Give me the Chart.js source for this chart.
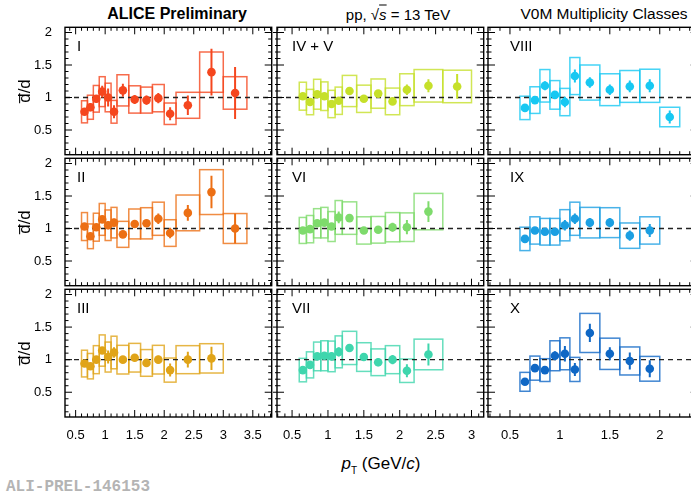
<!DOCTYPE html>
<html>
<head>
<meta charset="utf-8">
<script src="https://cdn.jsdelivr.net/npm/chart.js@4.4.0/dist/chart.umd.min.js"></script>
<style>
    body {margin: 0; background: #fff; overflow: hidden; font-family: "Liberation Sans", Arial, sans-serif;}
    #wrap {position: relative; width: 691px; height: 495px; overflow: hidden;}
    canvas {position: absolute;}
    .txt {position: absolute; white-space: nowrap; color: #000; transform: translate(-50%, -50%);}
</style>
</head>
<body>
<div id="wrap">
    <div class="txt" style="left:177px;top:14px;font-weight:bold;font-size:16px">ALICE Preliminary</div>
    <div class="txt" style="left:398px;top:14px;font-size:15px">pp, √<i style="text-decoration:overline">s</i> = 13 TeV</div>
    <div class="txt" style="left:604px;top:14px;font-size:15.5px">V0M Multiplicity Classes</div>
    <div class="txt" style="left:381px;top:465px;font-size:17px"><i>p</i><sub style="font-size:10px">T</sub> (GeV/<i>c</i>)</div>
    <div class="txt" style="left:78px;top:487px;font-size:16px;font-weight:bold;font-family:'Liberation Mono',monospace;color:#b4b4b4">ALI-PREL-146153</div>
</div>
<script>
// pT bins (GeV/c): centre and half width
const ptCenter = [0.65, 0.75, 0.85, 0.95, 1.05, 1.15, 1.3, 1.5, 1.7, 1.9, 2.1, 2.4, 2.8, 3.2];
const ptHalfWidth = [0.05, 0.05, 0.05, 0.05, 0.05, 0.05, 0.1, 0.1, 0.1, 0.1, 0.1, 0.2, 0.2, 0.2];

// dbar/d ratio, stat and syst errors for each V0M class
const ratioI = [0.78, 0.85, 0.98, 1.09, 1.0, 0.78, 1.11, 0.97, 0.96, 0.99, 0.75, 0.88, 1.39, 1.07];
const statI = [0.05, 0.06, 0.06, 0.09, 0.14, 0.1, 0.1, 0.07, 0.07, 0.08, 0.1, 0.15, 0.36, 0.4];
const sysI = [0.17, 0.185, 0.205, 0.23, 0.22, 0.175, 0.24, 0.21, 0.2, 0.21, 0.165, 0.2, 0.31, 0.25];

const ratioII = [1.03, 0.88, 1.02, 1.14, 1.05, 1.09, 0.91, 1.07, 1.08, 1.15, 0.93, 1.24, 1.56, 1.0];
const statII = [0.04, 0.04, 0.04, 0.04, 0.06, 0.06, 0.04, 0.04, 0.05, 0.08, 0.08, 0.12, 0.25, 0.23];
const sysII = [0.215, 0.19, 0.215, 0.245, 0.235, 0.235, 0.2, 0.23, 0.24, 0.255, 0.205, 0.275, 0.345, 0.23];

const ratioIII = [0.94, 0.9, 1.0, 1.14, 1.04, 1.11, 1.0, 1.03, 0.95, 1.0, 0.84, 1.0, 1.02];
const statIII = [0.04, 0.04, 0.04, 0.05, 0.1, 0.08, 0.04, 0.04, 0.04, 0.06, 0.1, 0.12, 0.18];
const sysIII = [0.205, 0.195, 0.215, 0.24, 0.23, 0.25, 0.22, 0.22, 0.205, 0.22, 0.185, 0.215, 0.225];

const ratioIVV = [1.02, 0.93, 1.05, 1.02, 0.9, 0.95, 1.1, 0.98, 1.06, 0.94, 1.12, 1.18, 1.17];
const statIVV = [0.04, 0.04, 0.04, 0.04, 0.04, 0.04, 0.04, 0.04, 0.05, 0.05, 0.08, 0.1, 0.19];
const sysIVV = [0.215, 0.195, 0.23, 0.22, 0.21, 0.21, 0.24, 0.21, 0.225, 0.205, 0.245, 0.25, 0.25];

const ratioVI = [0.97, 0.99, 1.08, 1.09, 1.03, 1.17, 1.16, 0.97, 0.98, 1.02, 1.02, 1.26];
const statVI = [0.03, 0.03, 0.03, 0.04, 0.05, 0.09, 0.04, 0.03, 0.04, 0.07, 0.11, 0.16];
const sysVI = [0.2, 0.21, 0.225, 0.235, 0.23, 0.26, 0.25, 0.21, 0.205, 0.225, 0.22, 0.28];

const ratioVII = [0.84, 0.92, 1.05, 1.06, 1.05, 1.12, 1.18, 1.04, 0.96, 1.0, 0.83, 1.08];
const statVII = [0.04, 0.04, 0.04, 0.04, 0.06, 0.07, 0.05, 0.05, 0.06, 0.07, 0.1, 0.17];
const sysVII = [0.18, 0.2, 0.22, 0.23, 0.235, 0.245, 0.255, 0.22, 0.205, 0.215, 0.18, 0.235];

const ratioVIII = [0.84, 0.96, 1.18, 1.04, 0.93, 1.33, 1.23, 1.12, 1.17, 1.18, 0.7];
const statVIII = [0.04, 0.04, 0.07, 0.05, 0.08, 0.1, 0.08, 0.08, 0.09, 0.1, 0.1];
const sysVIII = [0.18, 0.205, 0.25, 0.22, 0.21, 0.285, 0.27, 0.245, 0.245, 0.255, 0.15];

const ratioIX = [0.84, 0.97, 0.95, 0.95, 1.05, 1.15, 1.09, 1.09, 0.89, 0.97];
const statIX = [0.04, 0.04, 0.04, 0.04, 0.08, 0.08, 0.07, 0.07, 0.08, 0.1];
const sysIX = [0.18, 0.21, 0.205, 0.205, 0.24, 0.255, 0.235, 0.23, 0.195, 0.21];

const ratioX = [0.66, 0.87, 0.84, 1.06, 1.09, 0.85, 1.41, 1.09, 0.98, 0.86];
const statX = [0.04, 0.04, 0.04, 0.07, 0.12, 0.1, 0.14, 0.1, 0.13, 0.13];
const sysX = [0.145, 0.185, 0.175, 0.23, 0.245, 0.185, 0.3, 0.24, 0.215, 0.19];

// axes
const yTicks = [0.5, 1, 1.5, 2];
const xTicksByCol = [[0.5, 1, 1.5, 2, 2.5, 3, 3.5], [0.5, 1, 1.5, 2, 2.5, 3], [0.5, 1, 1.5, 2]];
const xRangeByCol = [[0.32, 3.82], [0.29, 3.17], [0.28, 2.38]];
const yRange = [0.12, 2.08];

// panels, row by row
const panels = [
    {name: "I", color: "#f5461e", ratio: ratioI, stat: statI, sys: sysI},
    {name: "IV + V", color: "#c6e02a", ratio: ratioIVV, stat: statIVV, sys: sysIVV},
    {name: "VIII", color: "#17c8f2", ratio: ratioVIII, stat: statVIII, sys: sysVIII},
    {name: "II", color: "#ec6f14", ratio: ratioII, stat: statII, sys: sysII},
    {name: "VI", color: "#7edb6c", ratio: ratioVI, stat: statVI, sys: sysVI},
    {name: "IX", color: "#1b9fe2", ratio: ratioIX, stat: statIX, sys: sysIX},
    {name: "III", color: "#e0a418", ratio: ratioIII, stat: statIII, sys: sysIII},
    {name: "VII", color: "#3fd6ad", ratio: ratioVII, stat: statVII, sys: sysVII},
    {name: "X", color: "#0f67c5", ratio: ratioX, stat: statX, sys: sysX},
];

const colLeft = [65, 277, 488];
const colWidth = [207, 207, 210];
const rowTop = [27, 158, 289];
const plotH = 128;
const labelOffset = [12, 15, 22];
const wrap = document.getElementById("wrap");

const drawTicks = (ctx, scale, from, to, horizontal, fixed, dir, out) => {
    for (let k = Math.ceil(from * 10); k <= Math.floor(to * 10); k++) {
        const major = k % 5 === 0;
        const len = major ? 7 : 3.5;
        const o = out ? (major ? 4 : 2) : 0;
        const p = scale.getPixelForValue(k / 10);
        ctx.beginPath();
        if (horizontal) {
            ctx.moveTo(p, fixed - o * dir);
            ctx.lineTo(p, fixed + len * dir);
        } else {
            ctx.moveTo(fixed - o * dir, p);
            ctx.lineTo(fixed + len * dir, p);
        }
        ctx.stroke();
    }
};

const makePanelPlugin = (panel, r, c) => ({
    id: "panel" + r + c,
    beforeDatasetsDraw(chart) {
        const {ctx, chartArea: a, scales: {x, y}} = chart;
        ctx.save();
        ctx.beginPath();
        ctx.rect(a.left, a.top, a.right - a.left, a.bottom - a.top);
        ctx.clip();
        // syst boxes
        ctx.strokeStyle = panel.color;
        ctx.globalAlpha = 0.8;
        ctx.lineWidth = 1.5;
        panel.ratio.forEach((v, i) => {
            const l = x.getPixelForValue(ptCenter[i] - ptHalfWidth[i]);
            const rr = x.getPixelForValue(ptCenter[i] + ptHalfWidth[i]);
            const t = y.getPixelForValue(v + panel.sys[i]);
            const b = y.getPixelForValue(v - panel.sys[i]);
            ctx.strokeRect(l, t, rr - l, b - t);
        });
        // dashed line at 1
        ctx.globalAlpha = 1;
        ctx.strokeStyle = "#222";
        ctx.lineWidth = 1.3;
        ctx.setLineDash([5, 4]);
        ctx.beginPath();
        ctx.moveTo(a.left, y.getPixelForValue(1));
        ctx.lineTo(a.right, y.getPixelForValue(1));
        ctx.stroke();
        ctx.setLineDash([]);
        // stat error bars
        ctx.strokeStyle = panel.color;
        ctx.lineWidth = 2;
        panel.ratio.forEach((v, i) => {
            const px = x.getPixelForValue(ptCenter[i]);
            ctx.beginPath();
            ctx.moveTo(px, y.getPixelForValue(v + panel.stat[i]));
            ctx.lineTo(px, y.getPixelForValue(v - panel.stat[i]));
            ctx.stroke();
        });
        ctx.restore();
    },
    afterDraw(chart) {
        const {ctx, chartArea: a, scales: {x, y}} = chart;
        ctx.save();
        ctx.strokeStyle = "#000";
        ctx.lineWidth = 1.4;
        ctx.strokeRect(a.left, a.top, a.right - a.left, a.bottom - a.top);
        ctx.lineWidth = 1;
        drawTicks(ctx, x, x.min, x.max, true, a.top, 1, false);
        drawTicks(ctx, x, x.min, x.max, true, a.bottom, -1, false);
        drawTicks(ctx, y, y.min, y.max, false, a.left, 1, c > 0);
        drawTicks(ctx, y, y.min, y.max, false, a.right, -1, false);
        ctx.fillStyle = "#000";
        ctx.font = "15px 'Liberation Sans', Arial, sans-serif";
        ctx.textBaseline = "middle";
        ctx.fillText(panel.name, a.left + labelOffset[c], a.top + 20);
        ctx.restore();
    }
});

panels.forEach((panel, idx) => {
    const r = Math.floor(idx / 3), c = idx % 3;
    const mL = c === 0 ? 57 : 6, mR = 4, mT = 4, mB = r === 2 ? 22 : 4;
    const cw = colWidth[c] + mL + mR, ch = plotH + mT + mB;
    const canvas = document.createElement("canvas");
    canvas.width = cw;
    canvas.height = ch;
    canvas.style.width = cw + "px";
    canvas.style.height = ch + "px";
    canvas.style.left = (colLeft[c] - mL) + "px";
    canvas.style.top = (rowTop[r] - mT) + "px";
    wrap.appendChild(canvas);

    const tickFont = {family: "'Liberation Sans', Arial, sans-serif", size: 13};
    const xScale = {
        type: "linear",
        min: xRangeByCol[c][0],
        max: xRangeByCol[c][1],
        display: r === 2,
        grid: {display: false},
        border: {display: false},
        afterBuildTicks: s => { s.ticks = xTicksByCol[c].map(v => ({value: v})); },
        ticks: {color: "#000", font: tickFont, padding: 3, maxRotation: 0, autoSkip: false, callback: v => String(v)}
    };
    if (r === 2) {
        xScale.afterFit = s => { s.height = mB; s.paddingLeft = 0; s.paddingRight = 0; };
    }
    const yScale = {
        type: "linear",
        min: yRange[0],
        max: yRange[1],
        display: c === 0,
        grid: {display: false},
        border: {display: false},
        afterBuildTicks: s => { s.ticks = yTicks.map(v => ({value: v})); },
        ticks: {color: "#000", font: tickFont, padding: 5, autoSkip: false, callback: v => String(v)},
        title: {display: true, text: "d\u0305/d", color: "#000", padding: {top: 7, bottom: 0},
                font: {family: "'Liberation Sans', Arial, sans-serif", size: 17}}
    };
    if (c === 0) {
        yScale.afterFit = s => { s.width = mL; s.paddingTop = 0; s.paddingBottom = 0; };
    }

    new Chart(canvas, {
        type: "scatter",
        data: {
            datasets: [{
                data: panel.ratio.map((v, i) => ({x: ptCenter[i], y: v})),
                backgroundColor: panel.color,
                borderColor: panel.color,
                pointRadius: 4.3,
                pointBorderWidth: 0
            }]
        },
        options: {
            responsive: false,
            animation: false,
            layout: {padding: {left: c === 0 ? 0 : mL, right: mR, top: mT, bottom: r === 2 ? 0 : mB}},
            plugins: {legend: {display: false}, tooltip: {enabled: false}},
            scales: {x: xScale, y: yScale}
        },
        plugins: [makePanelPlugin(panel, r, c)]
    });
});
</script>
</body>
</html>
